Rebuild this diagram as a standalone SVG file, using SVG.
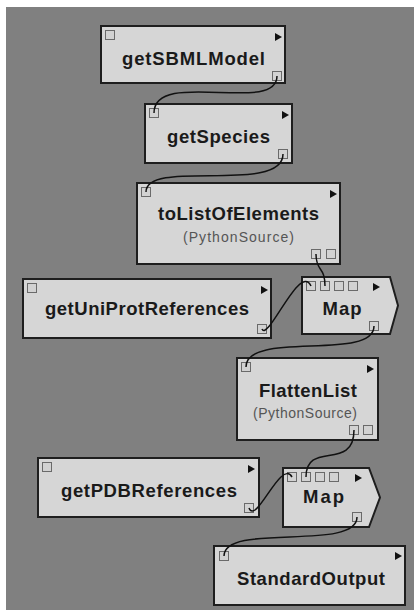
<svg xmlns="http://www.w3.org/2000/svg" width="414" height="610" viewBox="0 0 414 610">
<defs>
<style>
.box{fill:#d6d6d6;stroke:#1e1e1e;stroke-width:2}
.port{fill:#d2d2d2;stroke:#6a6a6a;stroke-width:1}
.tri{fill:#111}
.lbl{font-family:"Liberation Sans",Arial,sans-serif;font-weight:bold;font-size:18.5px;fill:#1a1a1a;text-anchor:middle}
.sub{font-family:"Liberation Sans",Arial,sans-serif;font-size:14px;fill:#555;text-anchor:middle}
.wire{fill:none;stroke:#111;stroke-width:1.5}
</style>
</defs>
<rect x="0" y="0" width="414" height="610" fill="#ffffff"/>
<rect x="6" y="7" width="408" height="603" fill="#808080"/>

<g id="getSBMLModel">
<rect class="box" x="101" y="26" width="184" height="57"/>
<rect class="port" x="105.5" y="30.5" width="9" height="9"/>
<rect class="port" x="272.5" y="71.5" width="9" height="9"/>
<polygon class="tri" points="275,33 282,37 275,41"/>
<text class="lbl" x="193.5" y="65" textLength="143" lengthAdjust="spacing">getSBMLModel</text>
</g>

<g id="getSpecies">
<rect class="box" x="145" y="104" width="147" height="59"/>
<rect class="port" x="149.5" y="108.5" width="9" height="9"/>
<rect class="port" x="278.5" y="149.5" width="9" height="9"/>
<polygon class="tri" points="282,111 289,115 282,119"/>
<text class="lbl" x="218.5" y="143" textLength="103" lengthAdjust="spacing">getSpecies</text>
</g>

<g id="toListOfElements">
<rect class="box" x="137" y="183" width="203" height="81"/>
<rect class="port" x="141.5" y="187.5" width="9" height="9"/>
<rect class="port" x="311.5" y="249.5" width="9" height="9"/>
<rect class="port" x="326.5" y="249.5" width="9" height="9"/>
<polygon class="tri" points="330,190 337,194 330,198"/>
<text class="lbl" x="238.5" y="220" textLength="161" lengthAdjust="spacing">toListOfElements</text>
<text class="sub" x="238.5" y="242" textLength="111" lengthAdjust="spacing">(PythonSource)</text>
</g>

<g id="getUniProtReferences">
<rect class="box" x="23" y="279" width="248" height="59"/>
<rect class="port" x="27.5" y="283.5" width="9" height="9"/>
<rect class="port" x="257.5" y="324.5" width="9" height="9"/>
<polygon class="tri" points="261,286 268,290 261,294"/>
<text class="lbl" x="147" y="315" textLength="204" lengthAdjust="spacing">getUniProtReferences</text>
</g>

<g id="Map1">
<polygon class="box" points="302,277 390,277 398,305.5 390,334 302,334"/>
<rect class="port" x="306.5" y="281.5" width="9" height="9"/>
<rect class="port" x="320.5" y="281.5" width="9" height="9"/>
<rect class="port" x="334.5" y="281.5" width="9" height="9"/>
<rect class="port" x="348.5" y="281.5" width="9" height="9"/>
<rect class="port" x="369.5" y="321.5" width="9" height="9"/>
<polygon class="tri" points="373,283 380,287 373,291"/>
<text class="lbl" x="342" y="315" textLength="39" lengthAdjust="spacing">Map</text>
</g>

<g id="FlattenList">
<rect class="box" x="237" y="358" width="141" height="82"/>
<rect class="port" x="241.5" y="362.5" width="9" height="9"/>
<rect class="port" x="349.5" y="425.5" width="9" height="9"/>
<rect class="port" x="363.5" y="425.5" width="9" height="9"/>
<polygon class="tri" points="367,365 374,369 367,373"/>
<text class="lbl" x="308" y="397" textLength="98" lengthAdjust="spacing">FlattenList</text>
<text class="sub" x="305" y="418" textLength="104" lengthAdjust="spacing">(PythonSource)</text>
</g>

<g id="getPDBReferences">
<rect class="box" x="38" y="458" width="221" height="59"/>
<rect class="port" x="42.5" y="462.5" width="9" height="9"/>
<rect class="port" x="244.5" y="503.5" width="9" height="9"/>
<polygon class="tri" points="248,465 255,469 248,473"/>
<text class="lbl" x="149" y="497" textLength="176" lengthAdjust="spacing">getPDBReferences</text>
</g>

<g id="Map2">
<polygon class="box" points="283,468 369,468 380,497.5 369,527 283,527"/>
<rect class="port" x="287.5" y="472.5" width="9" height="9"/>
<rect class="port" x="301.5" y="472.5" width="9" height="9"/>
<rect class="port" x="315.5" y="472.5" width="9" height="9"/>
<rect class="port" x="329.5" y="472.5" width="9" height="9"/>
<rect class="port" x="352.5" y="512.5" width="9" height="9"/>
<polygon class="tri" points="355,474 362,478 355,482"/>
<text class="lbl" x="323.5" y="503" textLength="41" lengthAdjust="spacing">Map</text>
</g>

<g id="StandardOutput">
<rect class="box" x="214" y="546" width="191" height="59"/>
<rect class="port" x="219.5" y="551.5" width="9" height="9"/>
<polygon class="tri" points="395,552 402,556 395,560"/>
<text class="lbl" x="311" y="585" textLength="148" lengthAdjust="spacing">StandardOutput</text>
</g>

<g id="connectors">
<path class="wire" d="M277,76 C277,115 154,68 154,113"/>
<path class="wire" d="M283,154 C283,195 146,158 146,192"/>
<path class="wire" d="M316,254 C316,272 325,266 325,286"/>
<path class="wire" d="M262,329 C268,342 300,262 311,286"/>
<path class="wire" d="M374,326 C374,362 246,330 246,367"/>
<path class="wire" d="M354,430 C354,472 306,440 306,477"/>
<path class="wire" d="M249,508 C256,526 281,458 292,477"/>
<path class="wire" d="M357,517 C357,552 224,522 224,556"/>
</g>
</svg>
